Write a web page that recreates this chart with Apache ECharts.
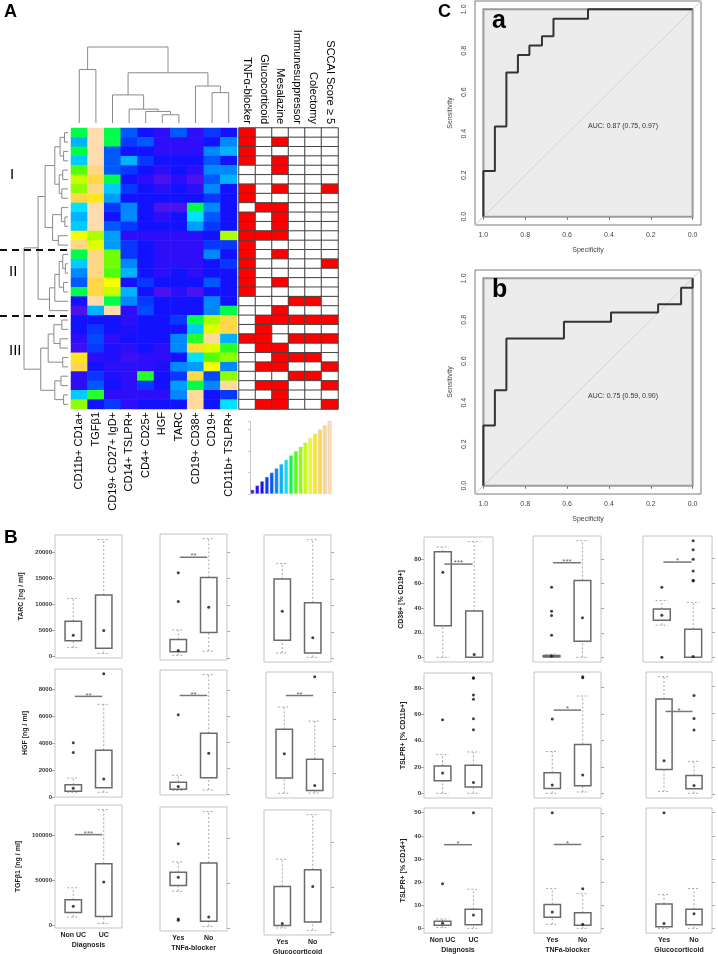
<!DOCTYPE html>
<html>
<head>
<meta charset="utf-8">
<script src="https://cdn.jsdelivr.net/npm/echarts@6/dist/echarts.min.js"></script>
<style>
html, body { margin: 0; padding: 0; background: #fff; }
#main { width: 718px; height: 954px; }
</style>
</head>
<body>
<div id="main"></div>
<script>
// ---- panel A: heatmap ----
var heatCols = ['CD11b+ CD1a+', 'TGFβ1', 'CD19+ CD27+ IgD+', 'CD14+ TSLPR+', 'CD4+ CD25+', 'HGF', 'TARC', 'CD19+ CD38+', 'CD19+', 'CD11b+ TSLPR+'];
// colour level per cell (0 = violet-blue ... 16 = peach)
var heatRows = [
    [8, 16, 8, 4, 2, 1, 4, 1, 3, 2],
    [6, 16, 8, 3, 4, 1, 1, 1, 2, 5],
    [8, 16, 4, 2, 2, 1, 1, 1, 5, 6],
    [6.5, 16, 4, 6, 3, 2, 2, 2, 4, 2],
    [9, 15, 4, 3, 2, 1, 2, 1, 5, 5],
    [11, 14, 8, 2, 1, 0, 1, 0, 4, 6],
    [10, 15, 6.5, 3, 2, 1, 2, 1, 5, 2],
    [14, 13, 5.5, 2, 2, 2, 2, 2, 3, 2],
    [7, 16, 3, 5, 2, 0, 0, 8, 5, 2],
    [6, 16, 2, 5, 2, 1, 2, 7, 4, 2],
    [6.5, 16, 4, 3, 2, 2, 2, 5.5, 3, 2],
    [12, 10.5, 5.5, 1, 1, 1, 1, 1, 2, 10.5],
    [15, 11.5, 5.5, 3, 2, 1, 1, 1, 3, 3],
    [8, 15, 9.5, 3, 2, 1, 1, 1, 5, 2],
    [6.5, 15, 9.5, 5, 2, 1, 1, 1, 2, 3],
    [5, 15, 9, 6, 2, 1, 2, 1, 2, 2],
    [4, 14, 12, 2, 3, 2, 2, 2, 4, 2],
    [8, 14, 11, 6, 2, 0, 1, 0, 2, 2],
    [2, 16, 8, 5, 3, 2, 2, 2, 5, 2],
    [0, 6, 16, 1, 3.5, 2, 2, 2, 5, 8],
    [2, 2, 2, 1, 2, 2, 3, 8, 10.5, 14],
    [2, 3, 2, 1.5, 2, 2, 2, 6.5, 11.5, 14],
    [1, 3.5, 1, 2, 2, 2, 5, 8.5, 15.5, 6],
    [0.5, 3, 1.5, 1, 2, 1, 5, 13.5, 11.5, 8.5],
    [13, 1, 1.5, 0.5, 1, 1, 2, 7, 9, 10],
    [14, 2, 1, 1, 1, 1.5, 5, 5.5, 12, 5],
    [1, 3, 1.5, 1, 8.5, 2, 3, 14, 3.5, 10],
    [1, 4, 2, 1, 3, 2, 5.5, 8, 5, 15.5],
    [6.5, 8.5, 1, 1, 1, 1, 5, 15.5, 2, 3],
    [10, 2, 3, 1, 2, 2, 2, 15.5, 2, 7]
];
var palette = ['#4c12ee', '#2c0ef8', '#1212ff', '#0838ff', '#0058ff', '#0088ff', '#00b2ff', '#00e2ff',
    '#00ff4a', '#50ff08', '#90ff00', '#c8ff00', '#f6ff00', '#ffe61c', '#ffd84a', '#ffd886', '#ffdcae'];
var keyLevels = [0, 1, 2, 3, 4, 5, 6, 7, 8, 9, 10, 11, 12, 13, 14, 15, 16];

var annoCols = ['TNFα-blocker', 'Glucocorticoid', 'Mesalazine', 'Immunesuppressor', 'Colectomy', 'SCCAI Score \u2265 5'];
var annoRows = ['100000', '101000', '100000', '101000', '001000', '000000', '101001', '100000', '011000', '101000',
    '101000', '111000', '100000', '101000', '100001', '100000', '101000', '100000', '000110', '001000',
    '011111', '010000', '110111', '011000', '001110', '011001', '000110', '011001', '001000', '011001'];

// dendrograms: [childA, childB, height], clusters numbered after the leaves
var colLinkage = [[5, 6, 0.25], [4, 10, 0.35], [3, 11, 0.42], [8, 9, 0.92], [2, 12, 0.85],
    [7, 13, 1.12], [0, 1, 1.62], [14, 15, 1.52], [16, 17, 2.30]];
var rowLinkage = [[0, 1, 0.08], [2, 3, 0.10], [30, 31, 0.18], [4, 5, 0.12], [6, 7, 0.14], [33, 34, 0.20],
    [32, 35, 0.30], [9, 10, 0.07], [8, 37, 0.15], [11, 12, 0.22], [38, 39, 0.35], [36, 40, 0.52],
    [14, 15, 0.06], [13, 42, 0.12], [16, 17, 0.10], [43, 44, 0.20], [45, 18, 0.30], [46, 19, 0.42],
    [41, 47, 0.68],
    [20, 21, 0.14], [22, 23, 0.18], [49, 50, 0.32], [24, 25, 0.12], [51, 52, 0.45], [26, 27, 0.16],
    [28, 29, 0.10], [54, 55, 0.30], [53, 56, 0.62], [48, 57, 1.0]];
var clusterBreaks = [13, 20];

// ---- panel C: ROC ----
var rocASpec = [1, 1, 0.945, 0.89, 0.835, 0.78, 0.72, 0.665, 0.5, 0];
var rocASens = [0, 0.22, 0.435, 0.695, 0.78, 0.825, 0.87, 0.955, 1, 1];
var rocBSpec = [1, 1, 0.945, 0.89, 0.615, 0.39, 0.165, 0.055, 0];
var rocBSens = [0, 0.29, 0.46, 0.71, 0.79, 0.835, 0.875, 0.955, 1];
var rocTicks = [0, 0.2, 0.4, 0.6, 0.8, 1];

// ---- panel B: boxes [whisker low, q1, mid, q3, whisker high], 2 groups x 3 panels ----
var groupLabels = [['Non UC', 'UC'], ['Yes', 'No'], ['Yes', 'No']];
var groupTitles = ['Diagnosis', 'TNFa-blocker', 'Glucocorticoid'];

var tarcBoxes = [[1650, 2970, 4030, 6730, 11090], [530, 1520, 4950, 11750, 22440],
    [530, 1190, 1460, 3500, 5300], [1320, 4830, 9600, 15200, 22500],
    [1000, 3400, 8900, 15000, 17900], [200, 1000, 3900, 10500, 22400]];
var tarcOut = [[], [], [16100, 10660], [], [], []];
var tarcSig = [null, [19000, 2], null];
var tarcTicks = [0, 5000, 10000, 15000, 20000];

var hgfBoxes = [[350, 430, 640, 910, 1410], [350, 690, 1330, 3470, 6880],
    [320, 400, 620, 940, 1480], [350, 1290, 3170, 4700, 9200],
    [530, 1660, 3460, 5280, 6940], [550, 740, 1110, 3060, 5890]];
var hgfOut = [[4030, 3310], [9150], [6130], [], [], [9190]];
var hgfSig = [[7470, 2], [7600, 2], [7790, 2]];
var hgfTicks = [0, 2000, 4000, 6000, 8000];

var tgfBoxes = [[9500, 14400, 21300, 28500, 41800], [2300, 9900, 48300, 68400, 128500],
    [40800, 47300, 56500, 61900, 73400], [1900, 7700, 12300, 72300, 129200],
    [5000, 7700, 10000, 50800, 80800], [2300, 11500, 50800, 69200, 130000]];
var tgfOut = [[], [], [93500, 10000, 8800], [], [], []];
var tgfSig = [[100700, 3], null, null];
var tgfTicks = [0, 50000, 100000];

var cd38Boxes = [[0, 25.7, 69.4, 86, 90], [0, 0, 2.3, 37.7, 94.3],
    [0, 0.3, 1, 1.5, 2.5], [0, 13, 32.3, 62.5, 95],
    [26, 30, 34, 39, 46], [0, 0, 0.6, 22.8, 44.4]];
var cd38Out = [[], [], [57, 37.5, 34, 18], [], [56.7, 0], [94.3, 86.9, 79.2, 69.8, 62.4, 61.8]];
var cd38Sig = [[76, 3], [77, 3], [77, 1]];
var cd38Ticks = [0, 20, 40, 60, 80];

var tslpr11Boxes = [[0, 9.6, 15.5, 20.8, 29.6], [0, 4.8, 8.3, 21.3, 31.5],
    [0.3, 4, 6.6, 15.8, 31.7], [1.3, 6, 14, 37, 73.4],
    [2.1, 18.5, 25, 70.7, 87.3], [0.8, 4.2, 6.6, 14, 24.5]];
var tslpr11Out = [[56], [88, 87.5, 74.7, 71.5, 56.8, 48.3], [56.2], [87.9, 87], [], [73.4, 56.2, 47.8]];
var tslpr11Sig = [null, [62.8, 1], [61.5, 1]];
var tslpr11Ticks = [0, 20, 40, 60, 80];

var tslpr14Boxes = [[0.5, 1.5, 2.4, 3.2, 4.2], [0.15, 1.7, 5.9, 8.4, 17],
    [1.9, 5, 7.2, 10.5, 17.4], [0.15, 1.5, 1.9, 6.9, 15.2],
    [0.15, 0.9, 2.3, 10.7, 14.7], [0.15, 1.7, 6.5, 8.4, 17.3]];
var tslpr14Out = [[19.4], [50], [50.3], [17.3], [50], []];
var tslpr14Sig = [[36.2, 1], [36.5, 1], null];
var tslpr14Ticks = [0, 10, 20, 30, 40, 50];

var FONT = 'Liberation Sans';

var chart = echarts.init(document.getElementById('main'));
var grids = [], xAxes = [], yAxes = [], series = [];

function addGrid(l, t, w, h, extra) {
    grids.push(Object.assign({ left: l, top: t, width: w, height: h, outerBoundsMode: 'none', containLabel: false }, extra || {}));
    return grids.length - 1;
}
function hiddenValue(gi, min, max, inverse) {
    return { gridIndex: gi, type: 'value', min: min, max: max, inverse: !!inverse, show: false };
}

// dendrogram segments from linkage
function dendroSegments(linkage, n) {
    var pos = [], hgt = [];
    for (var i = 0; i < n; i++) { pos[i] = i; hgt[i] = 0; }
    return linkage.map(function (m, k) {
        pos[n + k] = (pos[m[0]] + pos[m[1]]) / 2;
        hgt[n + k] = m[2];
        return [pos[m[0]], pos[m[1]], hgt[m[0]], hgt[m[1]], m[2]];
    });
}
function dendroRender(horizontal) {
    return function (params, api) {
        var pa = api.value(0), pb = api.value(1), ha = api.value(2), hb = api.value(3), h = api.value(4);
        var pts = [[pa, ha], [pa, h], [pb, h], [pb, hb]].map(function (p) {
            return api.coord(horizontal ? [p[1], p[0]] : p);
        });
        return { type: 'polyline', shape: { points: pts }, style: { stroke: '#8a8a8a', fill: null, lineWidth: 1 } };
    };
}

// --- heatmap ---
var gHeat = addGrid(71, 128, 166, 281);
xAxes.push({
    gridIndex: gHeat, type: 'category', data: heatCols, position: 'bottom',
    axisLine: { show: false }, axisTick: { show: false },
    axisLabel: { rotate: 90, interval: 0, margin: 3, fontSize: 11, color: '#000', fontFamily: FONT }
});
var rowIds = heatRows.map(function (r, i) { return 'r' + (i + 1); });
yAxes.push({ gridIndex: gHeat, type: 'category', data: rowIds, inverse: true, show: false });
var heatData = [];
heatRows.forEach(function (row, r) { row.forEach(function (v, c) { heatData.push([c, r, v]); }); });
series.push({ type: 'heatmap', xAxisIndex: gHeat, yAxisIndex: gHeat, data: heatData, emphasis: { disabled: true }, itemStyle: { borderWidth: 0 } });

// --- annotation matrix ---
var gAnno = addGrid(239, 128, 99, 281);
xAxes.push({
    gridIndex: gAnno, type: 'category', data: annoCols, position: 'top',
    axisLine: { show: false }, axisTick: { show: false },
    axisLabel: { rotate: 90, interval: 0, margin: 4, fontSize: 11, color: '#000', fontFamily: FONT }
});
yAxes.push({ gridIndex: gAnno, type: 'category', data: rowIds, inverse: true, show: false });
var annoData = [];
annoRows.forEach(function (s, r) { s.split('').forEach(function (ch, c) { annoData.push([c, r, +ch]); }); });
series.push({ type: 'heatmap', xAxisIndex: gAnno, yAxisIndex: gAnno, data: annoData, emphasis: { disabled: true },
    itemStyle: { borderColor: '#444', borderWidth: 1 } });

// --- column dendrogram ---
var gCol = addGrid(71, 47, 166, 76);
xAxes.push(hiddenValue(gCol, -0.5, heatCols.length - 0.5));
yAxes.push(hiddenValue(gCol, 0, 2.3));
series.push({ type: 'custom', xAxisIndex: gCol, yAxisIndex: gCol, silent: true, clip: false,
    data: dendroSegments(colLinkage, heatCols.length), encode: { x: [0, 1], y: [2, 3, 4] }, renderItem: dendroRender(false) });

// --- row dendrogram (root at x=24, dashed breaks reach x=0) ---
var rowDendroMax = 68 / 44;
var gRow = addGrid(0, 128, 68, 281);
xAxes.push(hiddenValue(gRow, 0, rowDendroMax, true));
yAxes.push(hiddenValue(gRow, -0.5, heatRows.length - 0.5, true));
series.push({ type: 'custom', xAxisIndex: gRow, yAxisIndex: gRow, silent: true, clip: false,
    data: dendroSegments(rowLinkage, heatRows.length), encode: { x: [2, 3, 4], y: [0, 1] }, renderItem: dendroRender(true) });
series.push({ type: 'line', xAxisIndex: gRow, yAxisIndex: gRow, data: [], silent: true,
    markLine: { silent: true, symbol: ['none', 'none'], label: { show: false },
        lineStyle: { color: '#111', type: [7, 5], width: 2 },
        data: clusterBreaks.map(function (b) { return [{ coord: [rowDendroMax, b - 0.5] }, { coord: [0, b - 0.5] }]; }) } });

// --- colour key ---
var gKey = addGrid(250, 421, 82, 73);
xAxes.push({ gridIndex: gKey, type: 'category', data: keyLevels, show: false });
yAxes.push({ gridIndex: gKey, type: 'value', min: 0, max: 17, interval: 5, splitLine: { show: false },
    axisLine: { show: true, lineStyle: { color: '#c8c8c8' } }, axisTick: { show: true, length: 2, lineStyle: { color: '#c8c8c8' } },
    axisLabel: { show: false } });
series.push({ type: 'bar', xAxisIndex: gKey, yAxisIndex: gKey, barCategoryGap: '18%', silent: true,
    data: keyLevels.map(function (l) { return { value: l + 1, itemStyle: { color: palette[l], borderColor: '#d0d0d0', borderWidth: 0.5 } }; }) });

// --- ROC panels ---
function makeRoc(top, spec, sens) {
    var gi = addGrid(475, top, 226, 224, { show: true, borderColor: '#7a7a7a', borderWidth: 1 });
    var lo = -0.04, hi = 1.04;
    xAxes.push({ gridIndex: gi, type: 'value', min: lo, max: hi, inverse: true, splitLine: { show: false },
        axisLine: { show: false }, axisTick: { show: true, length: 3, customValues: rocTicks, lineStyle: { color: '#666' } },
        axisLabel: { customValues: rocTicks, formatter: function (v) { return v.toFixed(1); }, fontSize: 7, color: '#444', margin: 7, fontFamily: FONT },
        name: 'Specificity', nameLocation: 'middle', nameGap: 22, nameTextStyle: { fontSize: 7, color: '#444', fontFamily: FONT } });
    yAxes.push({ gridIndex: gi, type: 'value', min: lo, max: hi, splitLine: { show: false },
        axisLine: { show: false }, axisTick: { show: true, length: 3, customValues: rocTicks, lineStyle: { color: '#666' } },
        axisLabel: { customValues: rocTicks, rotate: 90, formatter: function (v) { return v.toFixed(1); }, fontSize: 7, color: '#444', margin: 7, fontFamily: FONT },
        name: 'Sensitivity', nameLocation: 'middle', nameGap: 21, nameTextStyle: { fontSize: 7, color: '#444', fontFamily: FONT } });
    series.push({ type: 'line', xAxisIndex: gi, yAxisIndex: gi, silent: true, symbol: 'none', z: 2,
        data: [[hi, 1 - hi], [lo, 1 - lo]], lineStyle: { color: '#d0d0d0', width: 1 },
        markArea: { silent: true, itemStyle: { color: '#ececec', borderColor: '#9a9a9a', borderWidth: 2 },
            data: [[{ coord: [1, 0] }, { coord: [0, 1] }]] } });
    series.push({ type: 'line', xAxisIndex: gi, yAxisIndex: gi, silent: true, symbol: 'none', step: 'end', z: 4,
        data: spec.map(function (s, i) { return [s, sens[i]]; }), lineStyle: { color: '#333', width: 2 } });
    return gi;
}
makeRoc(1, rocASpec, rocASens);
makeRoc(270, rocBSpec, rocBSens);

// --- box panels ---
var measures = [
    { boxes: tarcBoxes, out: tarcOut, sig: tarcSig, ticks: tarcTicks, name: 'TARC [ng / ml]', gap: 30,
      frames: [[55, 535, 67, 123], [160, 534, 67, 126], [264, 535, 67, 127]], labels: false },
    { boxes: hgfBoxes, out: hgfOut, sig: hgfSig, ticks: hgfTicks, name: 'HGF [ng / ml]', gap: 26,
      frames: [[55, 669, 67, 128], [160, 670, 67, 125], [266, 672, 67, 126]], labels: false },
    { boxes: tgfBoxes, out: tgfOut, sig: tgfSig, ticks: tgfTicks, name: 'TGFβ1 [ng / ml]', gap: 33,
      frames: [[55, 805, 67, 123], [160, 807, 67, 124], [264, 810, 67, 125]], labels: true },
    { boxes: cd38Boxes, out: cd38Out, sig: cd38Sig, ticks: cd38Ticks, name: 'CD38+ [% CD19+]', gap: 19,
      frames: [[424, 537, 69, 125], [533, 536, 68, 126], [643, 536, 69, 126]], labels: false },
    { boxes: tslpr11Boxes, out: tslpr11Out, sig: tslpr11Sig, ticks: tslpr11Ticks, name: 'TSLPR+ [% CD11b+]', gap: 17,
      frames: [[424, 673, 68, 125], [534, 672, 67, 126], [646, 672, 66, 126]], labels: false },
    { boxes: tslpr14Boxes, out: tslpr14Out, sig: tslpr14Sig, ticks: tslpr14Ticks, name: 'TSLPR+ [% CD14+]', gap: 17,
      frames: [[424, 808, 68, 125], [534, 808, 67, 125], [646, 808, 66, 125]], labels: true }
];

function renderBox(params, api) {
    var x = api.value(0), lo = api.value(1), q1 = api.value(2), q3 = api.value(4), hi = api.value(5);
    var w = 0.27, c = 0.2;
    function p(a, b) { return api.coord([a, b]); }
    var dash = { stroke: '#a8a8a8', lineWidth: 1, lineDash: [2, 2] };
    function seg(a, b, d, e) { var s = p(a, b), t = p(d, e); return { type: 'line', shape: { x1: s[0], y1: s[1], x2: t[0], y2: t[1] }, style: dash }; }
    var tl = p(x - w, q3), br = p(x + w, q1);
    return { type: 'group', children: [
        seg(x, lo, x, q1), seg(x, q3, x, hi), seg(x - c, lo, x + c, lo), seg(x - c, hi, x + c, hi),
        { type: 'rect', shape: { x: tl[0], y: tl[1], width: br[0] - tl[0], height: Math.max(br[1] - tl[1], 1) },
          style: { fill: '#fff', stroke: '#6a6a6a', lineWidth: 1.5 } }
    ] };
}
function renderSig(params, api) {
    var y = api.value(1), n = api.value(2);
    var a = api.coord([1.05, y]), b = api.coord([1.95, y]);
    return { type: 'group', children: [
        { type: 'line', shape: { x1: a[0], y1: a[1], x2: b[0], y2: b[1] }, style: { stroke: '#777', lineWidth: 1.5 } },
        { type: 'text', style: { text: new Array(n + 1).join('*'), x: (a[0] + b[0]) / 2, y: a[1] + 3, align: 'center',
            verticalAlign: 'bottom', fontSize: 8, fill: '#666', fontFamily: FONT } }
    ] };
}

measures.forEach(function (m) {
    m.frames.forEach(function (f, p) {
        var gi = addGrid(f[0], f[1], f[2], f[3], { show: true, borderColor: '#c4c4c4', borderWidth: 1 });
        var b1 = m.boxes[p * 2], b2 = m.boxes[p * 2 + 1], o1 = m.out[p * 2], o2 = m.out[p * 2 + 1];
        var vals = b1.concat(b2, o1, o2);
        var vmin = Math.min.apply(null, vals), vmax = Math.max.apply(null, vals), pad = (vmax - vmin) * 0.04;
        var xa = { gridIndex: gi, type: 'value', min: 0.4, max: 2.6, splitLine: { show: false },
            axisLine: { show: false }, axisTick: { show: false }, axisLabel: { show: false } };
        if (m.labels) {
            xa.axisLabel = { show: true, customValues: [1, 2], formatter: function (v) { return groupLabels[p][Math.round(v) - 1]; },
                fontSize: 7, fontWeight: 'bold', color: '#222', margin: 4, fontFamily: FONT };
            xa.name = groupTitles[p];
            xa.nameLocation = 'middle';
            xa.nameGap = 14;
            xa.nameTextStyle = { fontSize: 7, fontWeight: 'bold', color: '#222', fontFamily: FONT };
        }
        xAxes.push(xa);
        var ya = { gridIndex: gi, type: 'value', min: vmin - pad, max: vmax + pad, splitLine: { show: false },
            axisLine: { show: false }, position: p === 0 ? 'left' : 'right',
            axisTick: { show: true, length: 3, customValues: m.ticks, lineStyle: { color: '#aaa' } },
            axisLabel: { show: false } };
        if (p === 0) {
            ya.axisLabel = { show: true, customValues: m.ticks, formatter: function (v) { return String(v); },
                fontSize: 6, fontWeight: 'bold', color: '#333', margin: 3, fontFamily: FONT };
            ya.name = m.name;
            ya.nameLocation = 'middle';
            ya.nameGap = m.gap;
            ya.nameTextStyle = { fontSize: 7, fontWeight: 'bold', color: '#222', fontFamily: FONT };
        }
        yAxes.push(ya);
        series.push({ type: 'custom', xAxisIndex: gi, yAxisIndex: gi, silent: true, clip: false,
            data: [[1].concat(b1), [2].concat(b2)], encode: { x: 0, y: [1, 2, 3, 4, 5] }, renderItem: renderBox });
        var pts = [[1, b1[2]], [2, b2[2]]];
        o1.forEach(function (v) { pts.push([1, v]); });
        o2.forEach(function (v) { pts.push([2, v]); });
        series.push({ type: 'scatter', xAxisIndex: gi, yAxisIndex: gi, silent: true, symbolSize: 3, z: 5,
            itemStyle: { color: '#111' }, data: pts });
        if (m.sig[p]) {
            series.push({ type: 'custom', xAxisIndex: gi, yAxisIndex: gi, silent: true, clip: false,
                data: [[1.5, m.sig[p][0], m.sig[p][1]]], encode: { x: 0, y: 1 }, renderItem: renderSig });
        }
    });
});

function label(txt, l, t, size, weight) {
    return { type: 'text', left: l, top: t, silent: true, z: 100,
        style: { text: txt, fontSize: size, fontWeight: weight || 'normal', fill: '#000', fontFamily: FONT } };
}

chart.setOption({
    animation: false,
    grid: grids,
    xAxis: xAxes,
    yAxis: yAxes,
    visualMap: [
        { type: 'continuous', show: false, seriesIndex: 0, min: 0, max: 16, inRange: { color: palette } },
        { type: 'piecewise', show: false, seriesIndex: 1, pieces: [{ value: 0, color: '#ffffff' }, { value: 1, color: '#ff0000' }] }
    ],
    series: series,
    graphic: {
        elements: [
            label('A', 4, 3, 18, 'bold'),
            label('B', 4, 528, 19, 'bold'),
            label('C', 438, 3, 18, 'bold'),
            label('a', 492, 9, 25, 'bold'),
            label('b', 492, 278, 25, 'bold'),
            label('I', 10, 167, 15),
            label('II', 9, 264, 15),
            label('III', 9, 343, 15),
            { type: 'text', left: 588, top: 123, silent: true, z: 100, style: { text: 'AUC: 0.87 (0.75, 0.97)', fontSize: 7, fill: '#333', fontFamily: FONT } },
            { type: 'text', left: 588, top: 393, silent: true, z: 100, style: { text: 'AUC: 0.75 (0.59, 0.90)', fontSize: 7, fill: '#333', fontFamily: FONT } }
        ]
    }
});
</script>
</body>
</html>
